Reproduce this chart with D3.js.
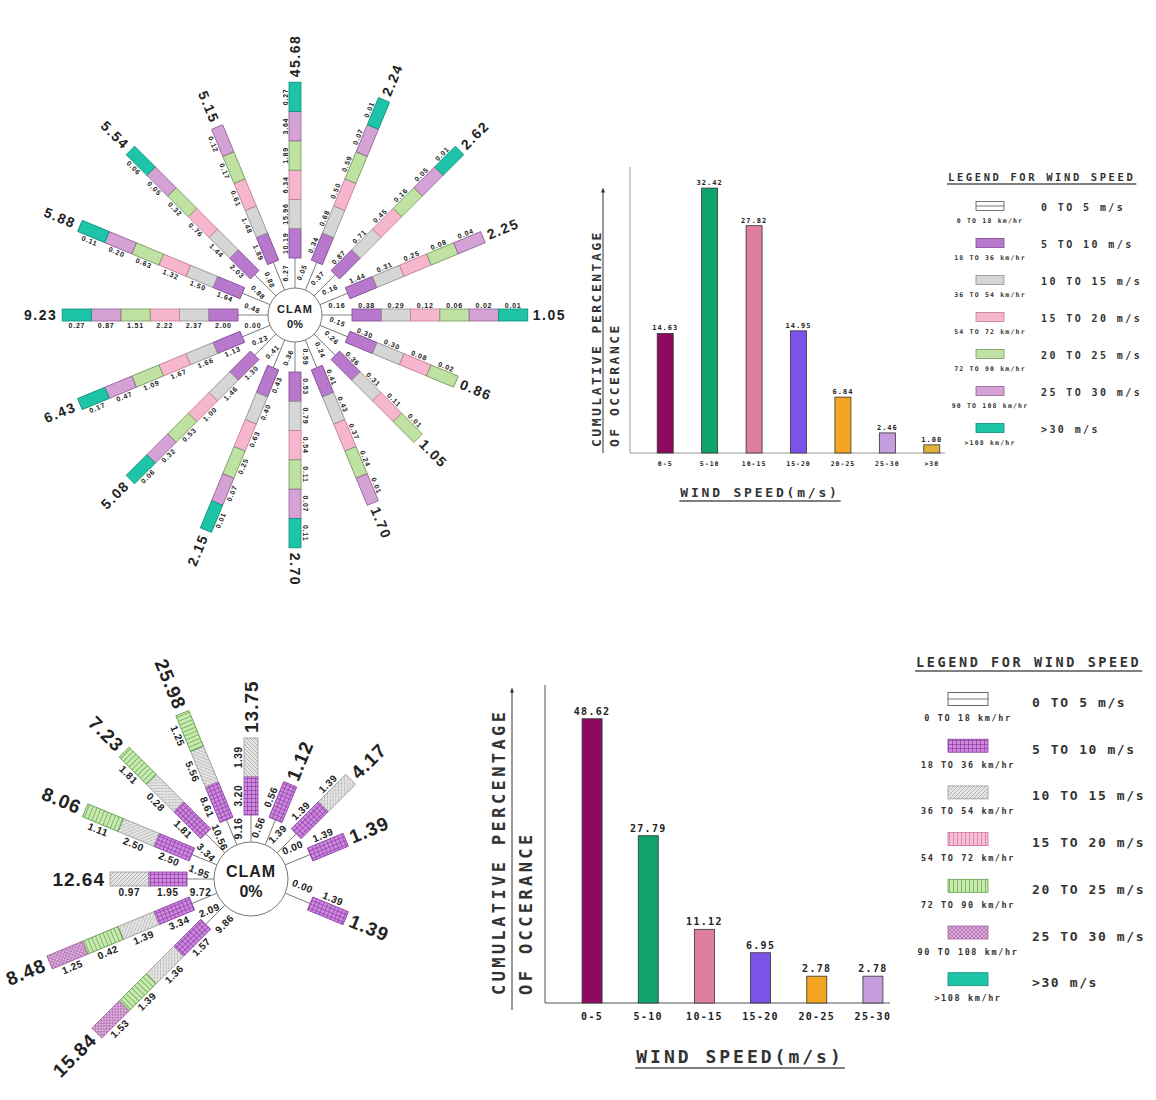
<!DOCTYPE html>
<html>
<head>
<meta charset="utf-8">
<script src="https://cdn.jsdelivr.net/npm/d3@7"></script>
<style>
  body { margin: 0; background: #fff; }
  svg { display: block; }
  .mono { font-family: "DejaVu Sans Mono", monospace; font-weight: bold; }
  .sans { font-family: "Liberation Sans", Arial, sans-serif; font-weight: bold; }
</style>
</head>
<body>
<svg id="chart" width="1156" height="1100"></svg>
<script>
// ---- data ----
const directions = ['N','NNE','NE','ENE','E','ESE','SE','SSE','S','SSW','SW','WSW','W','WNW','NW','NNW'];
const speedClasses = ['0-5','5-10','10-15','15-20','20-25','25-30','>30'];
const legendMs = ['0 TO 5 m/s','5 TO 10 m/s','10 TO 15 m/s','15 TO 20 m/s','20 TO 25 m/s','25 TO 30 m/s','>30 m/s'];
const legendKmh = ['0 TO 18 km/hr','18 TO 36 km/hr','36 TO 54 km/hr','54 TO 72 km/hr','72 TO 90 km/hr','90 TO 108 km/hr','>108 km/hr'];

// top rose: per direction, one value per speed class (null = no segment)
const topRoseTotals = [45.68, 2.24, 2.62, 2.25, 1.05, 0.86, 1.05, 1.70, 2.70, 2.15, 5.08, 6.43, 9.23, 5.88, 5.54, 5.15];
const topRoseValues = [
  [6.27, 10.19, 15.96, 6.34, 1.89, 3.64, 0.27],
  [0.05, 0.34, 0.68, 0.50, 0.59, 0.07, 0.01],
  [0.37, 0.87, 0.71, 0.45, 0.16, 0.05, 0.01],
  [0.16, 1.44, 0.31, 0.25, 0.08, 0.04, null],
  [0.16, 0.38, 0.29, 0.12, 0.06, 0.02, 0.01],
  [0.15, 0.30, 0.30, 0.08, 0.02, null, null],
  [0.26, 0.36, 0.31, 0.11, 0.01, null, null],
  [0.24, 0.41, 0.43, 0.37, 0.24, 0.01, null],
  [0.59, 0.53, 0.79, 0.54, 0.11, 0.07, 0.11],
  [0.36, 0.43, 0.40, 0.63, 0.25, 0.07, 0.01],
  [0.41, 1.30, 1.46, 1.00, 0.53, 0.32, 0.06],
  [0.23, 1.13, 1.66, 1.67, 1.09, 0.47, 0.17],
  [0.00, 2.00, 2.37, 2.22, 1.51, 0.87, 0.27],
  [0.48, 1.64, 1.50, 1.32, 0.63, 0.20, 0.11],
  [0.88, 2.03, 1.44, 0.76, 0.32, 0.05, 0.06],
  [0.88, 1.89, 1.48, 0.61, 0.17, 0.12, null]
];

// bottom rose
const bottomRoseTotals = [13.75, 1.12, 4.17, 1.39, null, 1.39, null, null, null, null, 15.84, 8.48, 12.64, 8.06, 7.23, 25.98];
const bottomRoseValues = [
  [9.16, 3.20, 1.39, null, null, null, null],
  [0.56, 0.56, null, null, null, null, null],
  [1.39, 1.39, 1.39, null, null, null, null],
  [0.00, 1.39, null, null, null, null, null],
  null,
  [0.00, 1.39, null, null, null, null, null],
  null, null, null, null,
  [9.86, 1.57, 1.36, null, 1.39, 1.53, null],
  [2.09, 3.34, 1.39, null, 0.42, 1.25, null],
  [9.72, 1.95, 0.97, null, null, null, null],
  [1.95, 2.50, 2.50, null, 1.11, null, null],
  [3.34, 1.81, 0.28, null, 1.81, null, null],
  [10.56, 8.61, 5.56, null, 1.25, null, null]
];

const topBarLabels = ['0-5','5-10','10-15','15-20','20-25','25-30','>30'];
const topBarValues = [14.63, 32.42, 27.82, 14.95, 6.84, 2.46, 1.00];
const bottomBarLabels = ['0-5','5-10','10-15','15-20','20-25','25-30'];
const bottomBarValues = [48.62, 27.79, 11.12, 6.95, 2.78, 2.78];

// ---- styles ----
const barColors = ['#8c0b5f','#10a36b','#de7fa1','#7b53e6','#f4a523','#c59ddc','#e2b03c'];
const roseFill = ['#ffffff','#b878cc','#d6d6d6','#f6b7ce','#bfe2a3','#d4a2d4','#1ec4a7'];
const roseStroke = ['#555','#7d4591','#8e8e8e','#c27a93','#6f9a5c','#946094','#0e8f7a'];
const hatchFill = ['#ffffff','#cf8ae0','#e6e6e6','#f7c0d6','#c9eab0','#e0b2e0','#1ec4a7'];
const hatchLine = ['#444','#8b3ea3','#9a9a9a','#d0709a','#5f9e48','#a35fa3','#0e8f7a'];
const hatchKind = [null,'grid','diag','vert','vert','cross',null];

const svg = d3.select('#chart');
const defs = svg.append('defs');

function makePatterns(){
  hatchKind.forEach((kind, i)=>{
    const p = defs.append('pattern')
      .attr('id', 'hatch' + i)
      .attr('patternUnits', 'userSpaceOnUse')
      .attr('width', 4).attr('height', 4);
    p.append('rect').attr('width', 4).attr('height', 4).attr('fill', hatchFill[i]);
    const paths = {grid: 'M0,0.5H4M0.5,0V4', diag: 'M0,4L4,0M-1,1L1,-1M3,5L5,3', vert: 'M1.5,0V4', cross: 'M0,4L4,0M0,0L4,4'};
    if(kind) p.append('path').attr('d', paths[kind]).attr('stroke', hatchLine[i]).attr('stroke-width', 0.7).attr('fill', 'none');
  });
  defs.append('marker')
    .attr('id', 'arrow').attr('viewBox', '0 0 10 10')
    .attr('refX', 5).attr('refY', 5)
    .attr('markerWidth', 5).attr('markerHeight', 5)
    .attr('orient', 'auto')
    .append('path').attr('d', 'M0,1L10,5L0,9z').attr('fill', '#333');
}

function segFill(c, hatched){ return hatched ? `url(#hatch${c})` : roseFill[c]; }
function segStroke(c, hatched){ return hatched ? hatchLine[c] : roseStroke[c]; }

function drawRose(o){
  const g = svg.append('g').attr('transform', `translate(${o.cx},${o.cy})`);
  const angle = d3.scaleBand().domain(directions).range([0, 360]);
  const radius = d3.scaleLinear()
    .domain([0, speedClasses.length - 1])
    .range([o.innerR, o.innerR + (speedClasses.length - 1) * o.segLen]);

  directions.forEach((dir, i)=>{
    const total = o.totals[i];
    if(total == null) return;
    const vals = o.values[i];
    const theta = angle(dir);
    const flip = theta > 180;
    const spoke = g.append('g').attr('transform', `rotate(${theta - 90})`);

    spoke.append('line')
      .attr('x1', o.clamR).attr('x2', o.innerR)
      .attr('stroke', '#666').attr('stroke-width', 0.8);

    const segs = vals.map((v, c)=>({v, c})).slice(1).filter(d=>d.v != null);
    segs.forEach((d, k)=>{ d.r0 = radius(k); d.r1 = radius(k + 1); });

    spoke.selectAll('rect.seg').data(segs).join('rect')
      .attr('class', 'seg')
      .attr('x', d=>d.r0).attr('width', d=>d.r1 - d.r0)
      .attr('y', -o.barW/2).attr('height', o.barW)
      .attr('fill', d=>segFill(d.c, o.hatched))
      .attr('stroke', d=>segStroke(d.c, o.hatched))
      .attr('stroke-width', 0.8);

    const labels = [{v: vals[0], r: (o.clamR + o.innerR)/2}]
      .concat(segs.map(d=>({v: d.v, r: (d.r0 + d.r1)/2})));
    spoke.selectAll('text.val').data(labels).join('text')
      .attr('class', 'val sans')
      .attr('transform', d=>`translate(${d.r},${-o.labelOff}) rotate(${flip ? 180 : 0})`)
      .attr('text-anchor', 'middle')
      .attr('dominant-baseline', 'central')
      .attr('font-size', o.valSize)
      .attr('letter-spacing', o.valSpacing)
      .attr('fill', '#222')
      .text(d=>d.v.toFixed(2));

    const rEnd = segs.length ? segs[segs.length - 1].r1 : o.innerR;
    spoke.append('text')
      .attr('class', 'sans')
      .attr('transform', `translate(${rEnd + o.totalGap},0) rotate(${flip ? 180 : 0})`)
      .attr('text-anchor', flip ? 'end' : 'start')
      .attr('dominant-baseline', 'central')
      .attr('font-size', o.totalSize)
      .attr('letter-spacing', o.totalSpacing)
      .attr('fill', '#222')
      .text(total.toFixed(2));
  });

  g.append('circle').attr('r', o.clamR)
    .attr('fill', '#fff').attr('stroke', '#777').attr('stroke-width', 1);
  g.append('text').attr('class', 'sans')
    .attr('text-anchor', 'middle').attr('y', -o.clamSize*0.15)
    .attr('font-size', o.clamSize).attr('letter-spacing', 1).attr('fill', '#222')
    .text('CLAM');
  g.append('text').attr('class', 'sans')
    .attr('text-anchor', 'middle').attr('y', o.clamSize*1.15)
    .attr('font-size', o.clamSize).attr('fill', '#222')
    .text('0%');
}

function underlineText(g, text, dy){
  const box = text.node().getBBox();
  g.append('line')
    .attr('x1', box.x - 1).attr('x2', box.x + box.width + 1)
    .attr('y1', box.y + box.height + dy).attr('y2', box.y + box.height + dy)
    .attr('stroke', '#555').attr('stroke-width', 1.3);
}

function drawBars(o){
  const g = svg.append('g');
  const x = d3.scaleBand().domain(o.labels).range(o.xRange).paddingInner(o.padIn).paddingOuter(0.5);
  const y = d3.scaleLinear().domain(o.yDomain).range([o.base, o.yTop]);

  g.append('line')
    .attr('x1', o.axisX).attr('x2', o.axisX).attr('y1', o.axisTop).attr('y2', o.base)
    .attr('stroke', o.axisColor).attr('stroke-width', 1);
  g.append('line')
    .attr('x1', o.axisX).attr('x2', o.axisRight).attr('y1', o.base).attr('y2', o.base)
    .attr('stroke', o.axisColor).attr('stroke-width', 1);

  g.selectAll('rect.bar').data(o.values).join('rect')
    .attr('class', 'bar')
    .attr('x', (d, i)=>x(o.labels[i]))
    .attr('y', d=>y(d))
    .attr('width', x.bandwidth())
    .attr('height', d=>y(o.yDomain[0]) - y(d))
    .attr('fill', (d, i)=>barColors[i])
    .attr('stroke', '#333').attr('stroke-width', 0.8);

  g.selectAll('text.vlab').data(o.values).join('text')
    .attr('class', 'vlab mono')
    .attr('x', (d, i)=>x(o.labels[i]) + x.bandwidth()/2)
    .attr('y', d=>y(d) - o.valGap)
    .attr('text-anchor', 'middle')
    .attr('font-size', o.valSize).attr('letter-spacing', o.valSpacing)
    .attr('fill', '#222')
    .text(d=>d.toFixed(2));

  const axis = g.append('g')
    .attr('transform', `translate(0,${o.base})`)
    .call(d3.axisBottom(x).tickSize(0).tickPadding(o.tickPad));
  axis.select('.domain').remove();
  axis.attr('font-family', '"DejaVu Sans Mono", monospace')
    .attr('font-weight', 'bold')
    .attr('font-size', o.tickSize);
  axis.selectAll('text').attr('fill', '#222').attr('letter-spacing', o.valSpacing);

  g.append('line')
    .attr('x1', o.arrowX).attr('x2', o.arrowX)
    .attr('y1', o.arrowBottom).attr('y2', o.arrowTop)
    .attr('stroke', '#333').attr('stroke-width', 1)
    .attr('marker-end', 'url(#arrow)');

  [['CUMULATIVE PERCENTAGE', o.ylab1X], ['OF OCCERANCE', o.ylab2X]].forEach(([t, bx])=>{
    g.append('text').attr('class', 'mono')
      .attr('transform', `translate(${bx},${o.ylabBottom}) rotate(-90)`)
      .attr('font-size', o.titleSize).attr('letter-spacing', o.titleSpacing)
      .attr('fill', '#333')
      .text(t);
  });

  const title = g.append('text').attr('class', 'mono')
    .attr('x', o.titleX).attr('y', o.titleY)
    .attr('text-anchor', 'middle')
    .attr('font-size', o.xTitleSize).attr('letter-spacing', o.xTitleSpacing)
    .attr('fill', '#333')
    .text('WIND SPEED(m/s)');
  underlineText(g, title, 1);
}

function drawLegend(o){
  const g = svg.append('g');
  const title = g.append('text').attr('class', 'mono')
    .attr('x', o.x).attr('y', o.titleY)
    .attr('font-size', o.titleSize).attr('letter-spacing', o.titleSpacing)
    .attr('fill', '#333')
    .text('LEGEND FOR WIND SPEED');
  underlineText(g, title, 1);

  const row = d3.scaleLinear().domain([0, 1]).range([o.row0, o.row0 + o.rowStep]);
  speedClasses.forEach((c, i)=>{
    const cy = row(i);
    g.append('rect')
      .attr('x', o.swX).attr('y', cy - o.swH/2)
      .attr('width', o.swW).attr('height', o.swH)
      .attr('fill', o.hatched ? `url(#hatch${i})` : roseFill[i])
      .attr('stroke', o.hatched ? hatchLine[i] : roseStroke[i]).attr('stroke-width', 0.8);
    if(i === 0){
      g.append('line')
        .attr('x1', o.swX).attr('x2', o.swX + o.swW)
        .attr('y1', cy).attr('y2', cy)
        .attr('stroke', '#555').attr('stroke-width', 0.8);
    }
    g.append('text').attr('class', 'mono')
      .attr('x', o.swX + o.swW/2).attr('y', cy + o.kmDy)
      .attr('text-anchor', 'middle')
      .attr('font-size', o.kmSize).attr('letter-spacing', o.kmSpacing)
      .attr('fill', '#333')
      .text(legendKmh[i]);
    g.append('text').attr('class', 'mono')
      .attr('x', o.msX).attr('y', cy + o.msDy)
      .attr('font-size', o.msSize).attr('letter-spacing', o.msSpacing)
      .attr('fill', '#333')
      .text(legendMs[i]);
  });
}

makePatterns();

drawRose({
  cx: 295, cy: 315, clamR: 27, innerR: 57, segLen: 29.3, barW: 12,
  labelOff: 10, valSize: 7, valSpacing: 0.8,
  totalGap: 5, totalSize: 14, totalSpacing: 1.5, clamSize: 11,
  totals: topRoseTotals, values: topRoseValues, hatched: false
});

drawRose({
  cx: 251, cy: 879, clamR: 37, innerR: 64, segLen: 38.5, barW: 14,
  labelOff: 13, valSize: 10, valSpacing: 0.5,
  totalGap: 5, totalSize: 19, totalSpacing: 1, clamSize: 16,
  totals: bottomRoseTotals, values: bottomRoseValues, hatched: true
});

drawBars({
  labels: topBarLabels, values: topBarValues,
  xRange: [635, 962], padIn: 0.64, yDomain: [0, 35], base: 453, yTop: 167,
  axisX: 630, axisTop: 167, axisRight: 945, axisColor: '#999',
  valSize: 7, valSpacing: 1, valGap: 3, tickSize: 6.5, tickPad: 8,
  arrowX: 603, arrowBottom: 453, arrowTop: 190,
  ylab1X: 601, ylab2X: 619, ylabBottom: 447,
  titleSize: 13, titleSpacing: 2.5,
  titleX: 760, titleY: 497, xTitleSize: 13, xTitleSpacing: 2.8
});

drawBars({
  labels: bottomBarLabels, values: bottomBarValues,
  xRange: [554, 911], padIn: 0.644, yDomain: [-2, 50], base: 1003, yTop: 711,
  axisX: 545, axisTop: 685, axisRight: 890, axisColor: '#555',
  valSize: 10, valSpacing: 1.3, valGap: 4, tickSize: 10, tickPad: 10,
  arrowX: 512, arrowBottom: 1010, arrowTop: 690,
  ylab1X: 505, ylab2X: 532, ylabBottom: 995,
  titleSize: 17, titleSpacing: 3.4,
  titleX: 740, titleY: 1063, xTitleSize: 18, xTitleSpacing: 3
});

drawLegend({
  x: 948, titleY: 181, titleSize: 10.5, titleSpacing: 2.6,
  row0: 206, rowStep: 37, swX: 976, swW: 28, swH: 9,
  kmDy: 17, kmSize: 6.5, kmSpacing: 1.2,
  msX: 1041, msDy: 5, msSize: 10, msSpacing: 2.4, hatched: false
});

drawLegend({
  x: 916, titleY: 667, titleSize: 13.5, titleSpacing: 2.6,
  row0: 699, rowStep: 46.7, swX: 948, swW: 40, swH: 13,
  kmDy: 22, kmSize: 8.5, kmSpacing: 1.6,
  msX: 1032, msDy: 8, msSize: 13, msSpacing: 1.6, hatched: true
});
</script>
</body>
</html>
